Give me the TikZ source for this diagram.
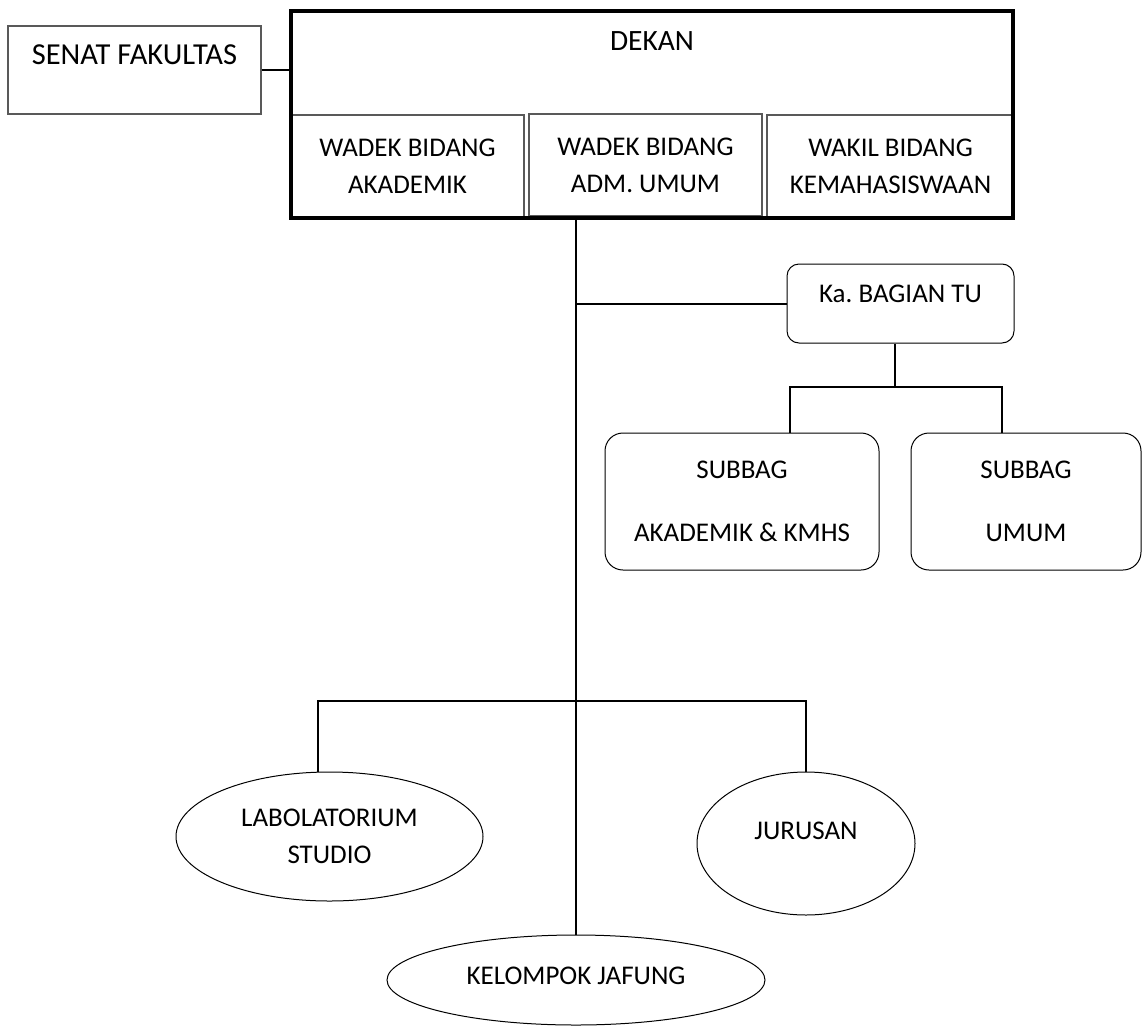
\documentclass[tikz,border=0pt]{standalone}
\usepackage{fontspec}
\setmainfont{Carlito}
\usetikzlibrary{shapes.geometric,positioning}
\tikzset{
    box/.style={draw=black!65,line width=1.3pt,inner sep=0pt,align=center},
    head/.style={draw=black,line width=4pt,inner sep=0pt},
    subbox/.style={draw=black,line width=1pt,rounded corners=#1,inner sep=0pt,align=center},
    unit/.style={ellipse,draw=black,line width=1pt,inner sep=0pt,align=center},
    raise/.style={text height=18pt,text depth=#1},
    conn/.style={draw=black,line width=2pt}
}
\frenchspacing

\begin{document}
\begin{tikzpicture}[x=1pt,y=1pt,font=\fontsize{27}{37}\selectfont]
    \useasboundingbox (0,0) rectangle (1142,-1025);

    % dekan and wakil
    \node[box,minimum width=233pt,minimum height=103pt] (akd) at (407.5,-166.5) {WADEK BIDANG\\AKADEMIK};
    \node[box,minimum width=233pt,minimum height=102pt] (adm) at (645.5,-165) {WADEK BIDANG\\ADM. UMUM};
    \node[box,minimum width=247pt,minimum height=103pt] (kmhs) at (890.5,-166.5) {WAKIL BIDANG\\KEMAHASISWAAN};
    \node[head,minimum width=722pt,minimum height=207pt,raise=145pt,font=\fontsize{29.5}{37}\selectfont] (dekan) at (652,-114.5) {DEKAN};
    \node[box,minimum width=253pt,minimum height=88pt,raise=30pt,font=\fontsize{30.5}{37}\selectfont] (senat) at (134.5,-70) {SENAT FAKULTAS};

    % tata usaha
    \node[subbox=12pt,minimum width=227pt,minimum height=79pt,raise=21pt] (ka) at (900.5,-303.5) {Ka. BAGIAN TU};
    \node[subbox=18pt,minimum width=274pt,minimum height=137pt] (sub1) at (742,-501.5) {SUBBAG\\[26pt]AKADEMIK \& KMHS};
    \node[subbox=18pt,minimum width=230pt,minimum height=137pt] (sub2) at (1026,-501.5) {SUBBAG\\[26pt]UMUM};

    % unit bawah
    \node[unit,minimum width=307pt,minimum height=129pt] (lab) at (329.5,-836.5) {LABOLATORIUM\\STUDIO};
    \node[unit,minimum width=218pt,minimum height=143pt,raise=27pt] (jur) at (806,-843.5) {JURUSAN};
    \node[unit,minimum width=378pt,minimum height=90pt,raise=10pt] (kel) at (576,-980) {KELOMPOK JAFUNG};

    \draw[conn] (senat.east) -- (senat.east -| dekan.west);
    \draw[conn] (dekan.south -| kel.north) -- (kel.north);
    \draw[conn] (ka.west -| kel.north) -- (ka.west);
    \draw[conn] ([xshift=-6pt]ka.south) -- ++(0,-43) coordinate (tubus);
    \draw[conn] ([xshift=48pt]sub1.north) |- (tubus) -| ([xshift=-24pt]sub2.north);
    \draw[conn] ([xshift=-12pt]lab.north) -- ++(0,71) -| (jur.north);
\end{tikzpicture}
\end{document}
